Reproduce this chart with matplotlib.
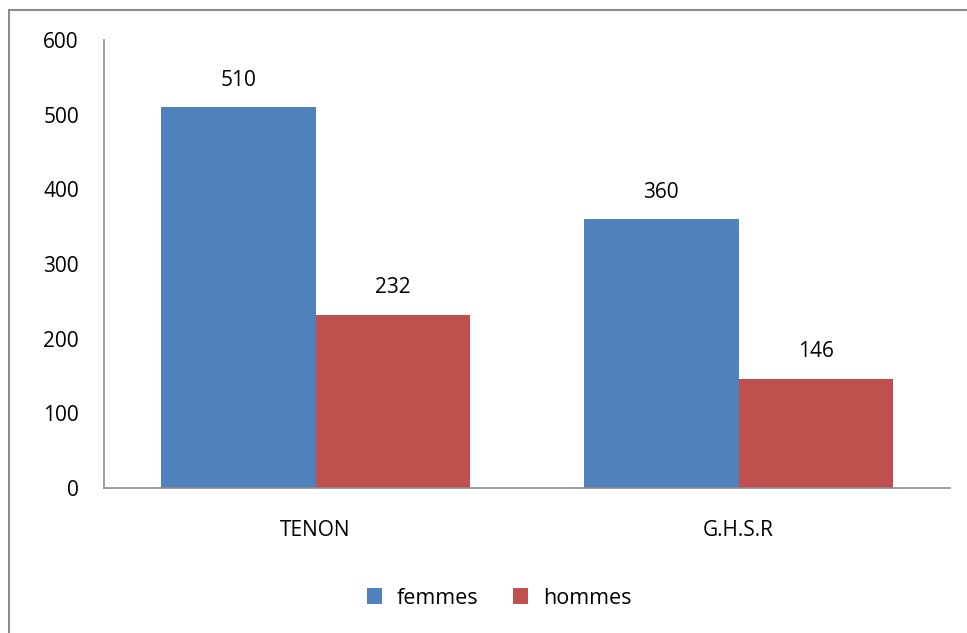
import matplotlib
matplotlib.use("Agg")
import matplotlib.pyplot as plt
import numpy as np
from matplotlib.patches import Rectangle

categories = ["TENON", "G.H.S.R"]
femmes = [510, 360]
hommes = [232, 146]
series_names = ["femmes", "hommes"]
colors = ["#4F81BD", "#C0504D"]
yticks = [0, 100, 200, 300, 400, 500, 600]

plt.rcParams['font.family'] = ['Open Sans', 'DejaVu Sans']

W, H = 967, 633
fig = plt.figure(figsize=(W/100, H/100), dpi=100)
ax = fig.add_axes([104/W, 1-488/H, (950-104)/W, (488-40)/H])

x = np.arange(len(categories))
bw = 0.366
b1 = ax.bar(x - bw/2, femmes, bw, color=colors[0], label=series_names[0])
b2 = ax.bar(x + bw/2, hommes, bw, color=colors[1], label=series_names[1])
for bars in (b1, b2):
    for r in bars:
        ax.annotate(f"{int(r.get_height())}", (r.get_x()+r.get_width()/2, r.get_height()),
                    xytext=(0, 12), textcoords="offset points", ha="center", va="bottom",
                    fontsize=15, color="black")

ax.set_xlim(-0.5, 1.5)
ax.set_ylim(0, 600)
ax.set_yticks(yticks)
ax.set_xticks(x)
ax.set_xticklabels(categories)
ax.tick_params(axis='y', length=0, pad=18, labelsize=15)
ax.tick_params(axis='x', length=0, pad=23, labelsize=15)
for s in ["top", "right"]:
    ax.spines[s].set_visible(False)
for s in ["left", "bottom"]:
    ax.spines[s].set_color("#8c8c8c")
    ax.spines[s].set_linewidth(1.2)

leg = fig.legend(handles=[b1, b2], labels=series_names, loc="center", bbox_to_anchor=(499/W, 1-598/H),
                 ncol=2, frameon=False, fontsize=15.5, handlelength=0.7, handleheight=0.7,
                 columnspacing=1.6, handletextpad=0.7)

fig.patches.append(Rectangle((9/W, -0.1), 1.2, 1-10/H+0.1, transform=fig.transFigure,
                             fill=False, edgecolor="#8c8c8c", linewidth=1.5))

fig.savefig("out.png", dpi=100)
